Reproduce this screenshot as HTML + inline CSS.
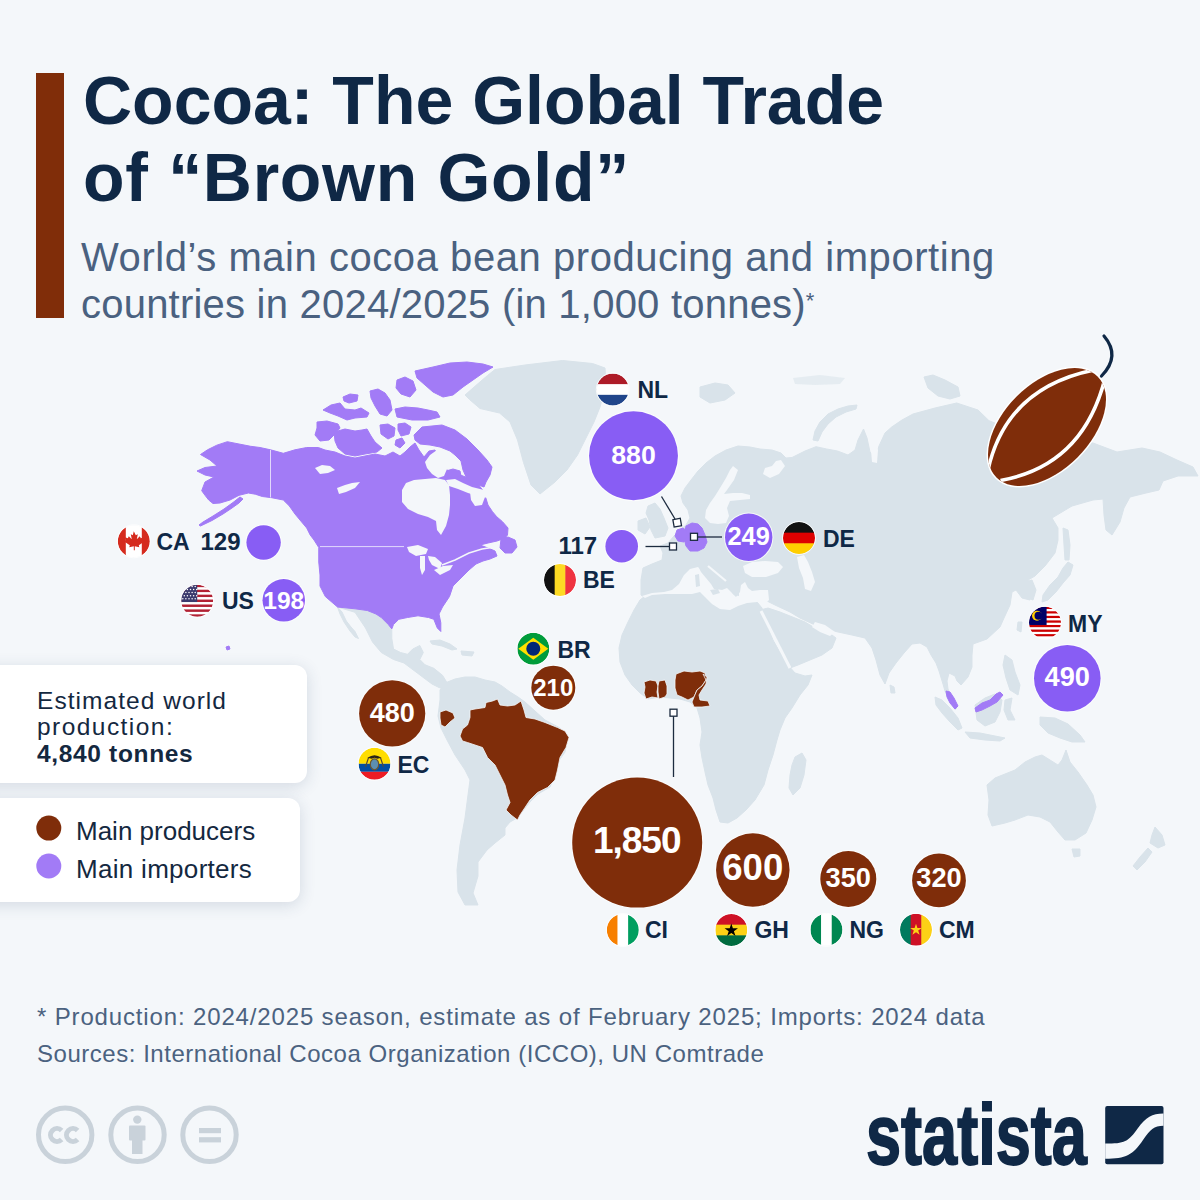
<!DOCTYPE html>
<html><head><meta charset="utf-8"><style>
html,body{margin:0;padding:0;}
body{width:1200px;height:1200px;background:#f4f7fa;position:relative;overflow:hidden;font-family:"Liberation Sans",sans-serif;}
.abs{position:absolute;white-space:nowrap;}
.nb{font-family:"Liberation Sans",sans-serif;font-weight:bold;}
#bar{left:36px;top:73px;width:28px;height:245px;background:#802d09;}
#title{left:83px;top:62px;font-size:68px;font-weight:bold;color:#0f2846;line-height:77px;}
#sub{left:81px;top:233.5px;font-size:40px;color:#4a6180;line-height:47px;}
#sub sup{font-size:22px;position:relative;top:-4px;vertical-align:top;}
.box{position:absolute;background:#ffffff;border-radius:12px;box-shadow:0 3px 16px rgba(40,60,100,0.16);}
#b1{left:-20px;top:665px;width:327px;height:118px;}
#b2{left:-20px;top:798px;width:320px;height:104px;}
#est{left:37px;top:687.5px;font-size:24.5px;line-height:26.7px;color:#14283f;}
.leg{font-size:26px;color:#14283f;}
#foot{left:37px;top:997.5px;font-size:24px;line-height:37.7px;color:#4b6280;}
#logo{left:866px;top:1086px;font-size:85px;font-weight:bold;color:#0f2846;transform-origin:0 0;transform:scaleX(0.742);letter-spacing:0px;-webkit-text-stroke:1.8px #0f2846;}
</style></head><body>
<div id="bar" class="abs"></div>
<div id="title" class="abs">Cocoa: The Global Trade<br><span style="letter-spacing:0.7px">of “Brown Gold”</span></div>
<div id="sub" class="abs"><span style="letter-spacing:0.55px">World’s main cocoa bean producing and importing</span><br><span style="letter-spacing:0.22px">countries in 2024/2025 (in 1,000 tonnes)</span><sup>*</sup></div>
<svg class="abs" style="left:0;top:0" width="1200" height="1200" viewBox="0 0 1200 1200">
<g stroke-linejoin="round">
<path d="M465,395 L477,384.5 L487.5,375.5 L495,369.5 L525,365 L562.5,360.5 L592.5,363.5 L605,368 L606,385 L600,407 L594,422 L585,440 L577.5,455 L567,470 L555,482 L540,494 L531,485 L523.5,462.5 L517.5,440 L510,422 L499.5,413 L480,408.5 L469.5,399.5Z" fill="#d9e3ea" stroke="#d9e3ea" stroke-width="1"/>
<path d="M641,595 L641,580 L643,568 L652,564 L662,560 L663,553 L660,546 L668,543 L674,536 L680,530 L686,525 L690,518 L688,510 L683,503 L681,496 L685,488 L691,480 L698,471 L706,463 L715,456 L726,450 L738,446 L750,447 L760,449 L772,450 L781,453 L786,458 L792,457.5 L805,451 L816,446.7 L826.7,449 L837.5,451 L848,455 L855,450 L858,440 L863.5,429 L867,438 L870,452 L875,458 L879,446 L885,433 L891.7,427 L902,420 L913,414 L935,408 L956.7,403 L978,410 L989,420.7 L1000,425 L1015,430 L1040,436 L1065,440 L1093,443 L1117,452 L1142,448 L1160,452 L1177,460 L1193,467 L1198,476 L1178,476 L1163,481 L1159,490 L1146,493 L1130,497 L1124,508 L1120,522 L1112,535 L1106,530 L1104,515 L1103,499 L1093,500 L1072,506 L1052,518 L1058,528 L1058,540 L1055,553 L1045,566 L1035,576 L1028,580 L1032,590 L1030,600 L1022,598 L1016,590 L1012,592 L1010,605 L1004,618 L1000,627 L987,639 L973,644 L972,655 L972,667 L968,677 L961,685 L957,681 L955,676 L949,673 L947,681 L948,689 L952,700 L957,708 L955,709.5 L949,700 L945,691 L943,684 L939,671 L936,663 L931,655 L927,647 L920,643 L912,644 L904,653 L896,663 L889,673 L885,684 L880,675 L876,660 L872,648 L865,638 L852,635 L838,632 L830,630 L815,625 L800,618 L790,612 L775,605 L765,600 L755,598 L740,598 L725,598 L712,598 L700,596 L685,590 L675,592 L665,596 L655,597 L645,598Z" fill="#d9e3ea" stroke="#d9e3ea" stroke-width="1"/>
<path d="M648,506 L655,503 L660,509 L664,518 L668,528 L665,536 L655,538 L651,530 L649,520 L646,513Z" fill="#d9e3ea" stroke="#d9e3ea" stroke-width="1"/>
<path d="M638,521 L646,518 L650,527 L645,534 L638,530Z" fill="#d9e3ea" stroke="#d9e3ea" stroke-width="1"/>
<path d="M645,596 L652,593 L665,593 L680,593 L692,593 L700,591 L705,597 L712,604 L720,609 L730,610 L738,606 L747,603 L757,602 L762,608 L767,625 L773,640 L780,652 L788,665 L795,673 L805,676 L812,675 L808,685 L800,695 L792,708 L785,718 L780,730 L777,740 L773,755 L768,770 L764,785 L755,800 L746,810 L737,818 L728,823 L720,822 L716,810 L713,798 L708,785 L705,772 L702,758 L700,745 L702,732 L700,718 L697,708 L690,702 L680,699 L670,698 L660,697 L648,699 L640,693 L632,685 L625,675 L620,662 L619,648 L622,635 L628,622 L634,610 L640,600Z" fill="#d9e3ea" stroke="#d9e3ea" stroke-width="1"/>
<path d="M795,757 L802,753 L806,760 L804,775 L800,788 L793,795 L789,788 L790,775 L792,765Z" fill="#d9e3ea" stroke="#d9e3ea" stroke-width="1"/>
<path d="M760,610 L768,608 L780,612 L795,618 L805,622 L815,628 L828,632 L836,638 L832,648 L822,655 L810,660 L798,665 L790,668 L785,658 L778,645 L770,630 L764,620Z" fill="#d9e3ea" stroke="#d9e3ea" stroke-width="1"/>
<path d="M440,690 L445,683 L455,679 L465,677 L475,677 L485,680 L495,682 L502,686 L510,692 L518,697 L525,702 L545,720 L560,728 L567,740 L565,752 L558,762 L555,775 L550,787 L538,794 L530,802 L522,812 L517,818 L510,822 L505,828 L505,835 L495,843 L487,850 L478,862 L478,876 L473,893 L478,905 L465,905 L458,892 L457,870 L460,845 L465,818 L468,795 L470,780 L465,770 L455,755 L447,740 L441,728 L438,716 L440,700Z" fill="#d9e3ea" stroke="#d9e3ea" stroke-width="1"/>
<path d="M337.5,607 L355,608.8 L367.3,610.5 L376,614 L381.3,617.5 L388.3,624.5 L391.8,628.9 L391.8,638.5 L393.5,649 L400.5,652.5 L407.5,654.3 L412.8,649 L419.8,645.5 L423.3,652.5 L419.8,659.5 L425,664.8 L433.8,668.3 L442.5,675.3 L447.8,684 L446,689.3 L439,687.5 L432,684 L425,678.8 L418,673.5 L411,668.3 L404,663 L393.5,659.5 L381.3,652.5 L372.5,642 L365.5,628 L355,612.3Z" fill="#d9e3ea" stroke="#d9e3ea" stroke-width="1"/>
<path d="M337.5,607 L342,612 L346.3,621 L351,627 L355,631.5 L358.5,638.5 L355,637 L350,631 L344,622 L340,614Z" fill="#d9e3ea" stroke="#d9e3ea" stroke-width="1"/>
<path d="M430,641 L440,640 L450,644 L457,649 L452,650 L442,646 L432,644Z" fill="#d9e3ea" stroke="#d9e3ea" stroke-width="1"/>
<path d="M461,651 L474,652 L472,656 L462,655Z" fill="#d9e3ea" stroke="#d9e3ea" stroke-width="1"/>
<path d="M935,697 L942,700 L950,708 L958,718 L962,728 L958,730 L950,722 L942,713 L936,705Z" fill="#d9e3ea" stroke="#d9e3ea" stroke-width="1"/>
<path d="M965,732 L980,733 L995,736 L1005,738 L1000,741 L985,740 L970,738Z" fill="#d9e3ea" stroke="#d9e3ea" stroke-width="1"/>
<path d="M975,705 L985,698 L995,694 L1002,700 L1000,712 L995,722 L985,726 L977,720Z" fill="#d9e3ea" stroke="#d9e3ea" stroke-width="1"/>
<path d="M1005,700 L1012,698 L1010,710 L1015,720 L1008,720 L1004,710Z" fill="#d9e3ea" stroke="#d9e3ea" stroke-width="1"/>
<path d="M1005,655 L1012,660 L1015,672 L1020,685 L1018,695 L1010,690 L1006,678 L1003,665Z" fill="#d9e3ea" stroke="#d9e3ea" stroke-width="1"/>
<path d="M1040,717 L1055,718 L1068,724 L1080,735 L1085,742 L1072,742 L1060,738 L1048,733 L1040,725Z" fill="#d9e3ea" stroke="#d9e3ea" stroke-width="1"/>
<path d="M1018,622 L1022,622 L1021,632 L1017,630Z" fill="#d9e3ea" stroke="#d9e3ea" stroke-width="1"/>
<path d="M890,685 L894,687 L895,693 L891,693Z" fill="#d9e3ea" stroke="#d9e3ea" stroke-width="1"/>
<path d="M1043,595 L1050,585 L1058,577 L1063,568 L1068,562 L1073,565 L1070,575 L1063,583 L1056,592 L1048,600 L1042,602Z" fill="#d9e3ea" stroke="#d9e3ea" stroke-width="1"/>
<path d="M1063,528 L1068,530 L1070,545 L1069,560 L1065,560 L1064,545Z" fill="#d9e3ea" stroke="#d9e3ea" stroke-width="1"/>
<path d="M1025,582 L1032,580 L1036,590 L1033,600 L1028,598 L1025,590Z" fill="#d9e3ea" stroke="#d9e3ea" stroke-width="1"/>
<path d="M987,785 L995,778 L1005,774 L1015,770 L1025,762 L1035,757 L1042,755 L1050,760 L1058,765 L1062,760 L1066,750 L1070,762 L1078,772 L1087,785 L1093,795 L1096,807 L1092,820 L1086,833 L1075,840 L1065,840 L1058,832 L1050,822 L1040,817 L1028,815 L1015,820 L1005,823 L992,826 L988,815 L989,800Z" fill="#d9e3ea" stroke="#d9e3ea" stroke-width="1"/>
<path d="M1072,849 L1080,849 L1080,856 L1074,857Z" fill="#d9e3ea" stroke="#d9e3ea" stroke-width="1"/>
<path d="M1155,827 L1162,835 L1165,845 L1158,848 L1150,843 L1152,835Z" fill="#d9e3ea" stroke="#d9e3ea" stroke-width="1"/>
<path d="M1148,848 L1152,852 L1145,862 L1137,870 L1133,866 L1140,857Z" fill="#d9e3ea" stroke="#d9e3ea" stroke-width="1"/>
<path d="M700,387 L715,383 L728,385 L735,393 L725,400 L710,403 L700,397Z" fill="#d9e3ea" stroke="#d9e3ea" stroke-width="1"/>
<path d="M813,440 L815,431 L820,422 L828,414 L838,409 L848,406 L857,405 L856,409 L846,412 L836,417 L828,424 L822,432 L818,441Z" fill="#d9e3ea" stroke="#d9e3ea" stroke-width="1"/>
<path d="M924,377 L933,375 L945,380 L958,387 L960,396 L950,399 L938,396 L928,388Z" fill="#d9e3ea" stroke="#d9e3ea" stroke-width="1"/>
<path d="M793,378 L820,375 L845,378 L840,384 L815,385 L795,384Z" fill="#d9e3ea" opacity="0.55"/>
<path d="M642,596 L652,593 L664,592 L672,590 L679,584 L684,575 L690,569 L698,567 L703,571 L707,577 L711,583 L716,589 L722,590 L727,588 L731,592 L736,597 L740,592 L741,585 L745,582 L748,588 L752,591 L760,590 L768,590 L769,600 L765,604 L757,602 L747,603 L738,606 L730,610 L720,609 L712,604 L705,597 L700,592 L692,594 L680,594 L665,594 L652,595 L645,598Z" fill="#f4f7fa" />
<path d="M743,566 L752,562 L765,561 L778,562 L783,567 L778,573 L766,577 L752,577 L745,573Z" fill="#f4f7fa" />
<path d="M797,557 L804,555 L808,562 L812,572 L815,582 L811,591 L805,589 L803,578 L799,568Z" fill="#f4f7fa" />
<path d="M733,466 L738,470 L734,480 L727,490 L724,494 L733,493 L742,493 L750,495 L750,499 L740,500 L730,501 L727,508 L729,516 L726,523 L718,524 L710,523 L705,518 L706,510 L710,503 L715,496 L720,488 L726,478 L730,470Z" fill="#f4f7fa" />
<path d="M776,461 L781,460 L785,466 L779,474 L770,478 L763,474 L765,468 L772,466Z" fill="#f4f7fa" />
<path d="M870,437 L874,438 L878,450 L877,463 L872,462 L871,450Z" fill="#f4f7fa" />
<path d="M815,622 L825,625 L835,632 L830,636 L820,632 L812,627Z" fill="#f4f7fa" />
<line x1="761" y1="611" x2="790" y2="668" stroke="#f4f7fa" stroke-width="3"/>
<path d="M698,566 L704,566 L709,571 L714,577 L720,581 L727,584 L724,588 L719,586 L718,590 L714,589 L711,584 L706,578 L701,572Z" fill="#d9e3ea" />
<path d="M710,590 L718,589 L720,593 L713,595Z" fill="#d9e3ea" />
<path d="M695,575 L699,574 L700,586 L696,587Z" fill="#d9e3ea" />
<path d="M727,583 L734,584 L739,590 L739,596 L734,595 L730,590Z" fill="#d9e3ea" />
<line x1="708" y1="566" x2="726" y2="581" stroke="#f4f7fa" stroke-width="2.2"/>
<path d="M200.5,454.5 L207.5,449.8 L216.8,445.2 L227.3,441.7 L239,444 L250.7,446.3 L260,447.5 L270.5,449.8 L283.3,453.3 L295,449.8 L306.7,447.5 L318.3,447.5 L325,450 L335,452 L345,456 L355,458 L365,456 L375,454 L385,456 L393,452 L400,456 L405,452 L410,447 L415,443 L419,450 L424,457 L429,451 L435,450 L438,458 L437,465 L447,470 L458,474 L468,478 L478,484 L484,492 L488,505 L492.5,511.7 L496.7,516.7 L502.5,521.7 L508,528 L507.5,535 L505,538 L497,541 L488,543 L480,545 L488,548 L495,551 L497,556 L490,559 L483,561 L476,564 L469,570 L460,579 L453,586 L449.5,596.5 L442.5,607 L439,614 L440.8,622.8 L440.8,631.5 L437.3,628 L433.8,619.3 L428.5,617.5 L418,615.8 L407.5,617.5 L398.8,619.3 L393.5,624.5 L391.8,628.9 L388.3,624.5 L381.3,617.5 L376,614 L367.3,610.5 L355,608.8 L337.5,607 L325.3,596.5 L320,586 L320,575 L318.75,562 L318.75,547.5 L314,540 L310.2,535 L306.7,528 L300.8,521 L295,514 L289.2,505.8 L283.3,500 L271.7,497.7 L262.3,496.5 L255.3,494.2 L248.3,493 L239,495.3 L230,500 L220,503 L213,503.5 L208.7,500 L205,495.3 L201.7,490.7 L205,482 L214,477 L205,475 L197,471 L205,467.5 L217,466 L210,460Z" fill="#a27bf6" stroke="#a27bf6" stroke-width="1"/>
<path d="M240,497 L233,502.5 L224,509 L213,516 L203,522 L199,525 L200.5,526 L212,520.5 L223,514 L232,508 L239,503 L243,499Z" fill="#a27bf6" stroke="#a27bf6" stroke-width="1"/>
<path d="M317,422 L327,421 L338,424 L340,428 L335,434 L329,440 L320,441 L315,435 L317,428Z" fill="#a27bf6" stroke="#a27bf6" stroke-width="1"/>
<path d="M334,432 L345,429 L355,431 L362,430 L367,429 L371,436 L375,442 L382,448 L377,452 L365,454 L355,456 L345,454 L338,448 L335,441Z" fill="#a27bf6" stroke="#a27bf6" stroke-width="1"/>
<path d="M323,410 L331,405 L340,403 L345,409 L355,410 L361,408 L369,413 L367,417 L355,418 L347,420 L338,416 L330,413Z" fill="#a27bf6" stroke="#a27bf6" stroke-width="1"/>
<path d="M343,397 L350,394 L358,395 L357,401 L349,403 L344,401Z" fill="#a27bf6" stroke="#a27bf6" stroke-width="1"/>
<path d="M370,391 L378,389 L385,393 L390,400 L392,410 L387,416 L380,414 L375,406 L371,398Z" fill="#a27bf6" stroke="#a27bf6" stroke-width="1"/>
<path d="M395,409 L405,407 L418,408 L428,410 L437,412 L440,417 L428,420 L412,420 L397,417Z" fill="#a27bf6" stroke="#a27bf6" stroke-width="1"/>
<path d="M380,425 L388,424 L395,428 L394,436 L388,439 L381,434Z" fill="#a27bf6" stroke="#a27bf6" stroke-width="1"/>
<path d="M398,424 L405,423 L411,427 L409,434 L401,436 L398,430Z" fill="#a27bf6" stroke="#a27bf6" stroke-width="1"/>
<path d="M396,440 L402,438 L405,443 L400,448 L395,445Z" fill="#a27bf6" stroke="#a27bf6" stroke-width="1"/>
<path d="M415,371 L433,367 L450,363 L467,362 L483,364 L493,367 L483,373 L473,380 L463,387 L453,395 L443,397 L433,392 L425,385 L417,378Z" fill="#a27bf6" stroke="#a27bf6" stroke-width="1"/>
<path d="M397,380 L405,377 L413,381 L416,390 L410,397 L401,394 L396,388Z" fill="#a27bf6" stroke="#a27bf6" stroke-width="1"/>
<path d="M414,435 L422,427 L442,425 L455,430 L467,439 L478,450 L487,460 L492,467 L490,475 L486,482 L484,487 L476,484 L467,479 L463,470 L461,461 L455,455 L450,451 L440,447 L430,445 L420,444 L415,440Z" fill="#a27bf6" stroke="#a27bf6" stroke-width="1"/>
<path d="M446,471 L453,469 L460,471 L461,476 L455,478 L448,478Z" fill="#a27bf6" stroke="#a27bf6" stroke-width="1"/>
<path d="M501,539 L508,537 L515,540 L517,547 L512,553 L505,553 L500,548Z" fill="#a27bf6" stroke="#a27bf6" stroke-width="1"/>
<path d="M226,647 L229,646 L230,649 L227,650Z" fill="#a27bf6" stroke="#a27bf6" stroke-width="1"/>
<path d="M686,526 L692,523 L698,524 L702,528 L705,535 L707,542 L704,548 L698,551 L690,551 L686,546 L684,538 L685,531Z" fill="#a27bf6" stroke="#a27bf6" stroke-width="1"/>
<path d="M677,530 L683,528 L687,531 L686,538 L684,542 L678,541 L675,536Z" fill="#a27bf6" stroke="#a27bf6" stroke-width="1"/>
<path d="M946,691 L950,692 L954,698 L958,706 L955,709 L950,703 L947,697Z" fill="#a27bf6" stroke="#a27bf6" stroke-width="1"/>
<path d="M975,708 L982,703 L990,700 L996,694 L1000,692 L1003,695 L997,702 L990,706 L982,710 L976,712Z" fill="#a27bf6" stroke="#a27bf6" stroke-width="1"/>
<path d="M402,490 L406,483 L414,480 L425,479 L436,478 L445,480 L449,485 L450,495 L450,505 L449,515 L446,526 L441,535 L437,530 L436,521 L428,517 L418,514 L408,509 L402,502Z" fill="#f4f7fa" />
<path d="M425,462 L430,455 L437,450 L447,452 L454,456 L458,462 L460,467 L455,467 L447,469 L444,476 L438,478 L432,474 L427,468Z" fill="#f4f7fa" />
<path d="M446,480 L455,479 L463,483 L472,487 L480,489 L488,491 L492,495 L488,498 L478,496 L468,493 L458,489 L449,486Z" fill="#f4f7fa" />
<path d="M470,492 L480,491 L485,497 L482,505 L475,506 L471,500Z" fill="#f4f7fa" />
<path d="M315,468 L322,465 L330,466 L335,470 L328,473 L320,474Z" fill="#f4f7fa" />
<path d="M337,488 L345,485 L352,483 L360,482 L355,488 L346,492 L339,494Z" fill="#f4f7fa" />
<path d="M407,547 L418,545 L428,549 L426,554 L416,556 L409,552Z" fill="#f4f7fa" />
<path d="M420,556 L425,556 L425,570 L422,575 L420,568Z" fill="#f4f7fa" />
<path d="M428,556 L435,557 L442,563 L440,569 L432,565 L429,560Z" fill="#f4f7fa" />
<path d="M434,570 L443,566 L453,565 L450,570 L440,575Z" fill="#f4f7fa" />
<g stroke="#f3f0fd" stroke-width="0.8" fill="none"><line x1="320" y1="546.6" x2="404" y2="546.6"/><line x1="270.5" y1="450" x2="270.5" y2="497.5"/><polyline points="442,565 455,560 469,553 482,549 495,547" stroke-width="1.4" stroke="#f4f7fa"/></g>
<path d="M460,736 L462.5,729 L467.5,725 L470,717.5 L470,710 L475,709 L485,707.5 L486,702.5 L492.5,701 L497.5,699 L500,705 L507.5,706 L515,705 L521,701 L524,710 L526,717.5 L535,719 L545,722.5 L557.5,727.5 L565,731 L569,737.5 L566,747.5 L560,757.5 L557.5,770 L555,780 L547.5,787.5 L537.5,792.5 L530,800 L525,807.5 L520,815 L517.5,820 L511,815 L506,810 L510,802.5 L507.5,795 L505,785 L500,775 L495,765 L487.5,757.5 L482.5,747.5 L475,745 L467.5,742.5 L462.5,741Z" fill="#7f2d0a" stroke="#f4f7fa" stroke-width="0.8"/>
<path d="M440,712 L446,710 L453,713 L455,718 L450,722 L445,727 L441,725 L440,718Z" fill="#7f2d0a" stroke="#f4f7fa" stroke-width="0.8"/>
<path d="M644,682 L650,680 L656,681 L658,686 L657,692 L658,698 L652,697 L646,699 L644,693 L645,687Z" fill="#7f2d0a" stroke="#f4f7fa" stroke-width="0.8"/>
<path d="M659,681 L665,680 L667,686 L667,694 L665,697 L659,699 L658,692 L658,686Z" fill="#7f2d0a" stroke="#f4f7fa" stroke-width="0.8"/>
<path d="M676,674 L684,671 L692,672 L700,671 L705,673 L706,680 L702,686 L697,690 L694,697 L688,700 L682,697 L677,695 L675,688 L675,680Z" fill="#7f2d0a" stroke="#f4f7fa" stroke-width="0.8"/>
<path d="M703,674 L707,677 L706,684 L702,690 L699,695 L700,700 L708,701 L710,706 L702,707 L694,707 L692,702 L694,697 L697,690 L702,686 L706,680Z" fill="#7f2d0a" stroke="#f4f7fa" stroke-width="0.8"/>
</g>

<defs><clipPath id="beanclip"><ellipse cx="0" cy="0" rx="71.5" ry="43" transform="translate(1047,427) rotate(-45)"/></clipPath></defs>
<g transform="translate(1047,427) rotate(-45)">
  <ellipse cx="0" cy="0" rx="73" ry="44.5" fill="#ffffff"/>
  <ellipse cx="0" cy="0" rx="71.5" ry="43" fill="#7f2d0a"/>
</g>
<g clip-path="url(#beanclip)" fill="none" stroke="#ffffff" stroke-width="3.6">
  <path d="M988,470 Q1006.2,387.9 1094,370"/>
  <path d="M1000.5,480.5 Q1082.8,465.8 1105,378.5"/>
</g>
<path d="M1104,336 Q1121,356 1101.5,376" fill="none" stroke="#0f2846" stroke-width="3.2" stroke-linecap="round"/>

</svg>
<div class="box" id="b1"></div>
<div class="box" id="b2"></div>
<div id="est" class="abs"><span style="letter-spacing:1.05px">Estimated world</span><br><span style="letter-spacing:1.45px">production:</span><br><b style="letter-spacing:0.66px">4,840 tonnes</b></div>
<div class="abs leg" style="left:76px;top:815.8px;">Main producers</div>
<div class="abs leg" style="left:76px;top:854px;letter-spacing:0.3px;">Main importers</div>
<svg class="abs" style="left:0;top:0" width="1200" height="1200" viewBox="0 0 1200 1200">
<circle cx="48.8" cy="828.1" r="12.5" fill="#7f2d0a"/>
<circle cx="48.8" cy="866" r="12.5" fill="#a27bf6"/>
<g stroke="#1c2b3f" stroke-width="1.3" fill="none">
<line x1="661.5" y1="496.5" x2="675" y2="519"/>
<line x1="645.5" y1="546.5" x2="669.5" y2="546.5"/>
<line x1="697.5" y1="537" x2="722" y2="537"/>
<line x1="673.5" y1="716" x2="673.5" y2="777"/>
</g>
<g stroke="#1c2b3f" stroke-width="1.3" fill="#ffffff">
<rect x="673.5" y="519" width="7.5" height="7.5" transform="rotate(-10 677 523)"/>
<rect x="669.5" y="543" width="7" height="7"/>
<rect x="690.5" y="533.3" width="7" height="7"/>
<rect x="670" y="709.2" width="7" height="7"/>
</g>
<circle cx="633.5" cy="455.8" r="45.45" fill="#ffffff" opacity="0.75"/><circle cx="633.5" cy="455.8" r="44.45" fill="#885df4"/><text x="633.5" y="463.512" font-size="26.7" class="nb" fill="#ffffff" text-anchor="middle" letter-spacing="0">880</text>
<circle cx="621.7" cy="546.3" r="17.3" fill="#ffffff" opacity="0.75"/><circle cx="621.7" cy="546.3" r="16.3" fill="#885df4"/>
<circle cx="748.7" cy="537.3" r="24.7" fill="#ffffff" opacity="0.75"/><circle cx="748.7" cy="537.3" r="23.7" fill="#885df4"/><text x="748.7" y="544.763" font-size="25.4" class="nb" fill="#ffffff" text-anchor="middle" letter-spacing="0">249</text>
<circle cx="263.6" cy="542.5" r="18.2" fill="#ffffff" opacity="0.75"/><circle cx="263.6" cy="542.5" r="17.2" fill="#885df4"/>
<circle cx="283.75" cy="600.3" r="22.25" fill="#ffffff" opacity="0.75"/><circle cx="283.75" cy="600.3" r="21.25" fill="#885df4"/><text x="283.75" y="608.787" font-size="24.6" class="nb" fill="#ffffff" text-anchor="middle" letter-spacing="0">198</text>
<circle cx="1067.3" cy="678.2" r="34.3" fill="#ffffff" opacity="0.75"/><circle cx="1067.3" cy="678.2" r="33.3" fill="#885df4"/><text x="1067.3" y="685.734" font-size="27.2" class="nb" fill="#ffffff" text-anchor="middle" letter-spacing="0">490</text>
<circle cx="637.2" cy="842.6" r="66" fill="#ffffff" opacity="0.75"/><circle cx="637.2" cy="842.6" r="65" fill="#7f2d0a"/><text x="636.7" y="853.165" font-size="37" class="nb" fill="#ffffff" text-anchor="middle" letter-spacing="-1">1,850</text>
<circle cx="752.8" cy="870.1" r="37.75" fill="#ffffff" opacity="0.75"/><circle cx="752.8" cy="870.1" r="36.75" fill="#7f2d0a"/><text x="752.8" y="880.027" font-size="36.6" class="nb" fill="#ffffff" text-anchor="middle" letter-spacing="0">600</text>
<circle cx="848.3" cy="879" r="29" fill="#ffffff" opacity="0.75"/><circle cx="848.3" cy="879" r="28" fill="#7f2d0a"/><text x="848.3" y="886.734" font-size="27.2" class="nb" fill="#ffffff" text-anchor="middle" letter-spacing="0">350</text>
<circle cx="939" cy="880.4" r="27.9" fill="#ffffff" opacity="0.75"/><circle cx="939" cy="880.4" r="26.9" fill="#7f2d0a"/><text x="939" y="887.384" font-size="27.2" class="nb" fill="#ffffff" text-anchor="middle" letter-spacing="0">320</text>
<circle cx="392.2" cy="713.4" r="34.1" fill="#ffffff" opacity="0.75"/><circle cx="392.2" cy="713.4" r="33.1" fill="#7f2d0a"/><text x="392.2" y="721.615" font-size="27" class="nb" fill="#ffffff" text-anchor="middle" letter-spacing="0">480</text>
<circle cx="553.3" cy="687.7" r="23" fill="#ffffff" opacity="0.75"/><circle cx="553.3" cy="687.7" r="22" fill="#7f2d0a"/><text x="553.3" y="696.38" font-size="24" class="nb" fill="#ffffff" text-anchor="middle" letter-spacing="0">210</text>
<clipPath id="cca"><circle cx="133.8" cy="541.3" r="16"/></clipPath>
<g clip-path="url(#cca)"><rect x="117.8" y="525.3" width="8.5" height="32" fill="#d52b1e"/><rect x="125.8" y="525.3" width="8.5" height="32" fill="#ffffff"/><rect x="133.8" y="525.3" width="8.5" height="32" fill="#ffffff"/><rect x="141.8" y="525.3" width="8.5" height="32" fill="#d52b1e"/><path d="M133.8,531.3 l2,4 2,-1 -1,5 3,-3 1,2 3,-1 -1,3 2,1 -6,4 0.5,2 -4.5,-1 0,4 -1,0 0,-4 -4.5,1 0.5,-2 -6,-4 2,-1 -1,-3 3,1 1,-2 3,3 -1,-5 2,1z" fill="#d52b1e"/></g>
<circle cx="133.8" cy="541.3" r="16.5" fill="none" stroke="#ffffff" stroke-width="1" opacity="0.8"/>
<clipPath id="cus"><circle cx="197.2" cy="600.8" r="16"/></clipPath>
<g clip-path="url(#cus)"><rect x="181.2" y="584.8" width="32" height="2.76154" fill="#b22234"/><rect x="181.2" y="587.262" width="32" height="2.76154" fill="#ffffff"/><rect x="181.2" y="589.723" width="32" height="2.76154" fill="#b22234"/><rect x="181.2" y="592.185" width="32" height="2.76154" fill="#ffffff"/><rect x="181.2" y="594.646" width="32" height="2.76154" fill="#b22234"/><rect x="181.2" y="597.108" width="32" height="2.76154" fill="#ffffff"/><rect x="181.2" y="599.569" width="32" height="2.76154" fill="#b22234"/><rect x="181.2" y="602.031" width="32" height="2.76154" fill="#ffffff"/><rect x="181.2" y="604.492" width="32" height="2.76154" fill="#b22234"/><rect x="181.2" y="606.954" width="32" height="2.76154" fill="#ffffff"/><rect x="181.2" y="609.415" width="32" height="2.76154" fill="#b22234"/><rect x="181.2" y="611.877" width="32" height="2.76154" fill="#ffffff"/><rect x="181.2" y="614.338" width="32" height="2.76154" fill="#b22234"/><rect x="181.2" y="584.8" width="16" height="17.2308" fill="#3c3b6e"/><circle cx="182.8" cy="586.4" r="0.75" fill="#ffffff"/><circle cx="185.9" cy="586.4" r="0.75" fill="#ffffff"/><circle cx="189" cy="586.4" r="0.75" fill="#ffffff"/><circle cx="192.1" cy="586.4" r="0.75" fill="#ffffff"/><circle cx="195.2" cy="586.4" r="0.75" fill="#ffffff"/><circle cx="184.3" cy="589.5" r="0.75" fill="#ffffff"/><circle cx="187.4" cy="589.5" r="0.75" fill="#ffffff"/><circle cx="190.5" cy="589.5" r="0.75" fill="#ffffff"/><circle cx="193.6" cy="589.5" r="0.75" fill="#ffffff"/><circle cx="196.7" cy="589.5" r="0.75" fill="#ffffff"/><circle cx="182.8" cy="592.6" r="0.75" fill="#ffffff"/><circle cx="185.9" cy="592.6" r="0.75" fill="#ffffff"/><circle cx="189" cy="592.6" r="0.75" fill="#ffffff"/><circle cx="192.1" cy="592.6" r="0.75" fill="#ffffff"/><circle cx="195.2" cy="592.6" r="0.75" fill="#ffffff"/><circle cx="184.3" cy="595.7" r="0.75" fill="#ffffff"/><circle cx="187.4" cy="595.7" r="0.75" fill="#ffffff"/><circle cx="190.5" cy="595.7" r="0.75" fill="#ffffff"/><circle cx="193.6" cy="595.7" r="0.75" fill="#ffffff"/><circle cx="196.7" cy="595.7" r="0.75" fill="#ffffff"/><circle cx="182.8" cy="598.8" r="0.75" fill="#ffffff"/><circle cx="185.9" cy="598.8" r="0.75" fill="#ffffff"/><circle cx="189" cy="598.8" r="0.75" fill="#ffffff"/><circle cx="192.1" cy="598.8" r="0.75" fill="#ffffff"/><circle cx="195.2" cy="598.8" r="0.75" fill="#ffffff"/></g>
<circle cx="197.2" cy="600.8" r="16.5" fill="none" stroke="#ffffff" stroke-width="1" opacity="0.8"/>
<clipPath id="cnl"><circle cx="612.8" cy="389.5" r="16"/></clipPath>
<g clip-path="url(#cnl)"><rect x="596.8" y="373.5" width="32" height="11.1667" fill="#ae1c28"/><rect x="596.8" y="384.167" width="32" height="11.1667" fill="#ffffff"/><rect x="596.8" y="394.833" width="32" height="11.1667" fill="#21468b"/></g>
<circle cx="612.8" cy="389.5" r="16.5" fill="none" stroke="#ffffff" stroke-width="1" opacity="0.8"/>
<clipPath id="cbe"><circle cx="560" cy="580" r="16"/></clipPath>
<g clip-path="url(#cbe)"><rect x="544" y="564" width="11.1667" height="32" fill="#111111"/><rect x="554.667" y="564" width="11.1667" height="32" fill="#fdda24"/><rect x="565.333" y="564" width="11.1667" height="32" fill="#ef3340"/></g>
<circle cx="560" cy="580" r="16.5" fill="none" stroke="#ffffff" stroke-width="1" opacity="0.8"/>
<clipPath id="cde"><circle cx="799" cy="538" r="16"/></clipPath>
<g clip-path="url(#cde)"><rect x="783" y="522" width="32" height="11.1667" fill="#111111"/><rect x="783" y="532.667" width="32" height="11.1667" fill="#dd0000"/><rect x="783" y="543.333" width="32" height="11.1667" fill="#ffce00"/></g>
<circle cx="799" cy="538" r="16.5" fill="none" stroke="#ffffff" stroke-width="1" opacity="0.8"/>
<clipPath id="cmy"><circle cx="1045" cy="622.7" r="16"/></clipPath>
<g clip-path="url(#cmy)"><rect x="1029" y="606.7" width="32" height="2.58571" fill="#cc0001"/><rect x="1029" y="608.986" width="32" height="2.58571" fill="#ffffff"/><rect x="1029" y="611.271" width="32" height="2.58571" fill="#cc0001"/><rect x="1029" y="613.557" width="32" height="2.58571" fill="#ffffff"/><rect x="1029" y="615.843" width="32" height="2.58571" fill="#cc0001"/><rect x="1029" y="618.129" width="32" height="2.58571" fill="#ffffff"/><rect x="1029" y="620.414" width="32" height="2.58571" fill="#cc0001"/><rect x="1029" y="622.7" width="32" height="2.58571" fill="#ffffff"/><rect x="1029" y="624.986" width="32" height="2.58571" fill="#cc0001"/><rect x="1029" y="627.271" width="32" height="2.58571" fill="#ffffff"/><rect x="1029" y="629.557" width="32" height="2.58571" fill="#cc0001"/><rect x="1029" y="631.843" width="32" height="2.58571" fill="#ffffff"/><rect x="1029" y="634.129" width="32" height="2.58571" fill="#cc0001"/><rect x="1029" y="636.414" width="32" height="2.58571" fill="#ffffff"/><rect x="1029" y="606.7" width="17.6" height="18.2857" fill="#010066"/><circle cx="1037" cy="615.7" r="5" fill="#ffcc00"/><circle cx="1038.5" cy="615.7" r="4" fill="#010066"/></g>
<circle cx="1045" cy="622.7" r="16.5" fill="none" stroke="#ffffff" stroke-width="1" opacity="0.8"/>
<clipPath id="cbr"><circle cx="533.3" cy="648.8" r="16"/></clipPath>
<g clip-path="url(#cbr)"><rect x="517.3" y="632.8" width="32" height="32" fill="#009c3b"/><path d="M518.3,648.8 L533.3,637.8 L548.3,648.8 L533.3,659.8 Z" fill="#ffdf00"/><circle cx="533.3" cy="648.8" r="7" fill="#002776"/></g>
<circle cx="533.3" cy="648.8" r="16.5" fill="none" stroke="#ffffff" stroke-width="1" opacity="0.8"/>
<clipPath id="cec"><circle cx="374.5" cy="763.8" r="16"/></clipPath>
<g clip-path="url(#cec)"><rect x="358.5" y="747.8" width="32" height="16" fill="#ffdd00"/><rect x="358.5" y="763.8" width="32" height="8" fill="#034ea2"/><rect x="358.5" y="771.8" width="32" height="8" fill="#ed1c24"/><path d="M368.5,757.8 l-3,9 M380.5,757.8 l3,9" stroke="#5a4a30" stroke-width="1.2"/><ellipse cx="374.5" cy="764.3" rx="4.2" ry="5.5" fill="#5d8fb0" stroke="#6b5530" stroke-width="1.2"/><path d="M367.5,757.8 q7,-5 14,0 l-4,1 -3,-1 -3,1z" fill="#2a2418"/></g>
<circle cx="374.5" cy="763.8" r="16.5" fill="none" stroke="#ffffff" stroke-width="1" opacity="0.8"/>
<clipPath id="cci"><circle cx="622.8" cy="930" r="16"/></clipPath>
<g clip-path="url(#cci)"><rect x="606.8" y="914" width="11.1667" height="32" fill="#f77f00"/><rect x="617.467" y="914" width="11.1667" height="32" fill="#ffffff"/><rect x="628.133" y="914" width="11.1667" height="32" fill="#009e60"/></g>
<circle cx="622.8" cy="930" r="16.5" fill="none" stroke="#ffffff" stroke-width="1" opacity="0.8"/>
<clipPath id="cgh"><circle cx="731.3" cy="930" r="16"/></clipPath>
<g clip-path="url(#cgh)"><rect x="715.3" y="914" width="32" height="11.1667" fill="#ce1126"/><rect x="715.3" y="924.667" width="32" height="11.1667" fill="#fcd116"/><rect x="715.3" y="935.333" width="32" height="11.1667" fill="#006b3f"/><path d="M731.3,923.5 l1.6,4.8 5.1,0 -4.1,3 1.6,4.8 -4.2,-3 -4.2,3 1.6,-4.8 -4.1,-3 5.1,0z" fill="#000"/></g>
<circle cx="731.3" cy="930" r="16.5" fill="none" stroke="#ffffff" stroke-width="1" opacity="0.8"/>
<clipPath id="cng"><circle cx="826.4" cy="929.8" r="16"/></clipPath>
<g clip-path="url(#cng)"><rect x="810.4" y="913.8" width="11.1667" height="32" fill="#008751"/><rect x="821.067" y="913.8" width="11.1667" height="32" fill="#ffffff"/><rect x="831.733" y="913.8" width="11.1667" height="32" fill="#008751"/></g>
<circle cx="826.4" cy="929.8" r="16.5" fill="none" stroke="#ffffff" stroke-width="1" opacity="0.8"/>
<clipPath id="ccm"><circle cx="916" cy="929.8" r="16"/></clipPath>
<g clip-path="url(#ccm)"><rect x="900" y="913.8" width="11.1667" height="32" fill="#007a5e"/><rect x="910.667" y="913.8" width="11.1667" height="32" fill="#ce1126"/><rect x="921.333" y="913.8" width="11.1667" height="32" fill="#fcd116"/><path d="M916,923.8 l1.4,4.2 4.4,0 -3.6,2.6 1.4,4.2 -3.6,-2.6 -3.6,2.6 1.4,-4.2 -3.6,-2.6 4.4,0z" fill="#fcd116"/></g>
<circle cx="916" cy="929.8" r="16.5" fill="none" stroke="#ffffff" stroke-width="1" opacity="0.8"/>
<text x="156.5" y="549.7" font-size="23" class="nb" fill="#0f2846" text-anchor="start">CA</text>
<text x="200.5" y="549.7" font-size="24" class="nb" fill="#0f2846" text-anchor="start">129</text>
<text x="222" y="609.2" font-size="23" class="nb" fill="#0f2846" text-anchor="start">US</text>
<text x="637.5" y="397.6" font-size="23" class="nb" fill="#0f2846" text-anchor="start">NL</text>
<text x="558.5" y="554.4" font-size="24" class="nb" fill="#0f2846" text-anchor="start">117</text>
<text x="583" y="588" font-size="23" class="nb" fill="#0f2846" text-anchor="start">BE</text>
<text x="823" y="546.5" font-size="23" class="nb" fill="#0f2846" text-anchor="start">DE</text>
<text x="1068" y="632" font-size="23" class="nb" fill="#0f2846" text-anchor="start">MY</text>
<text x="557.5" y="657.5" font-size="23" class="nb" fill="#0f2846" text-anchor="start">BR</text>
<text x="397.5" y="772.5" font-size="23" class="nb" fill="#0f2846" text-anchor="start">EC</text>
<text x="645" y="938.4" font-size="23" class="nb" fill="#0f2846" text-anchor="start">CI</text>
<text x="754.4" y="938.4" font-size="23" class="nb" fill="#0f2846" text-anchor="start">GH</text>
<text x="849.5" y="938.3" font-size="23" class="nb" fill="#0f2846" text-anchor="start">NG</text>
<text x="939" y="938.3" font-size="23" class="nb" fill="#0f2846" text-anchor="start">CM</text>
<g fill="none" stroke="#c9d2da" stroke-width="5">
<circle cx="65.2" cy="1134.8" r="26.7"/><circle cx="137.5" cy="1134.8" r="26.7"/><circle cx="209.5" cy="1134.8" r="26.7"/>
</g>
<path d="M61.6,1139.6 A6.5,6.5 0 1 1 61.6,1130.4 M77.6,1139.6 A6.5,6.5 0 1 1 77.6,1130.4" fill="none" stroke="#c9d2da" stroke-width="5"/>
<g fill="#c9d2da">
<circle cx="137.3" cy="1119.6" r="4.2"/>
<rect x="129" y="1125.6" width="16.5" height="15" rx="1"/>
<rect x="132" y="1138" width="10.5" height="16"/>
<rect x="199" y="1128" width="22" height="5.2"/>
<rect x="199" y="1137.2" width="22" height="5.2"/>
</g>
<g>
<rect x="1105.2" y="1106" width="58.3" height="58.3" rx="2" fill="#0f2846"/>
<path d="M1105.2,1143.6 C1125,1143.6 1128,1142 1138,1128 C1146,1117 1152,1113.4 1163.5,1113.4 L1163.5,1125.8 C1154,1125.8 1150,1130 1143,1140 C1133,1155 1126,1158.8 1105.2,1158.8 Z" fill="#f4f7fa"/>
</g>
</svg>
<div id="foot" class="abs"><span style="letter-spacing:0.85px">* Production: 2024/2025 season, estimate as of February 2025; Imports: 2024 data</span><br><span style="letter-spacing:0.53px">Sources: International Cocoa Organization (ICCO), UN Comtrade</span></div>
<div id="logo" class="abs">statista</div>
</body></html>
